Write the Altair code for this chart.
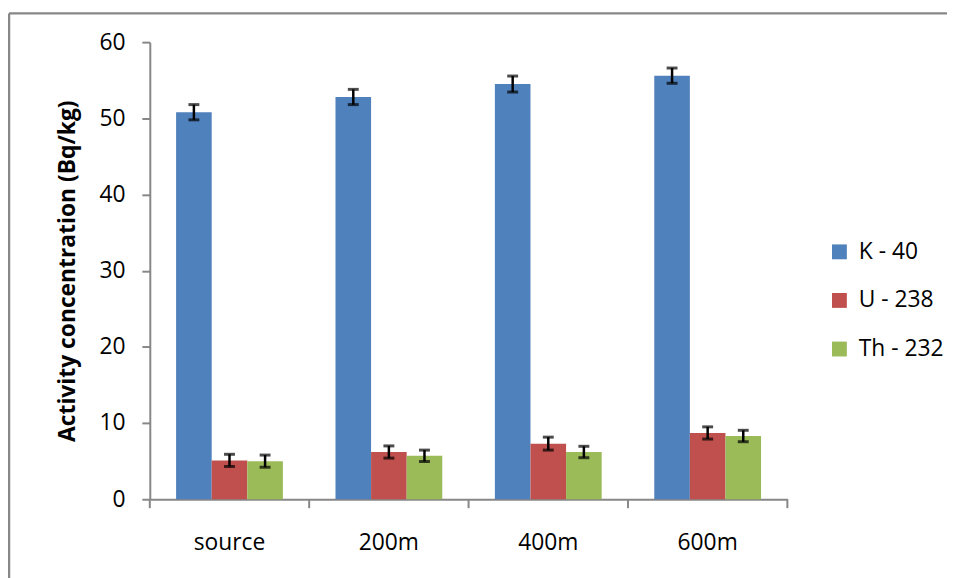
import altair as alt
import pandas as pd

sites = ["source", "200m", "400m", "600m"]
isotopes = ["K - 40", "U - 238", "Th - 232"]
k40 = [50.8, 52.8, 54.5, 55.6]
u238 = [5.1, 6.2, 7.3, 8.7]
th232 = [5.0, 5.7, 6.2, 8.3]
k40_err = [1.0, 1.0, 1.05, 1.0]
u238_err = [0.8, 0.8, 0.85, 0.8]
th232_err = [0.8, 0.75, 0.75, 0.75]
colors = ["#4F81BD", "#C0504D", "#9BBB59"]
y_ticks = [0, 10, 20, 30, 40, 50, 60]
boundaries = [0, 1, 2, 3, 4]

rows = []
for iso, vals, errs in zip(isotopes, [k40, u238, th232], [k40_err, u238_err, th232_err]):
    for s, v, e in zip(sites, vals, errs):
        rows.append({"site": s, "isotope": iso, "value": v, "lo": v - e, "hi": v + e})
df = pd.DataFrame(rows)

FONT = "Open Sans"
GRAY = "#878787"
FS = 23
W, H = 643, 461
PL, PT = 143, 32

x_enc = alt.X("site:N", sort=sites,
              scale=alt.Scale(paddingInner=0.33, paddingOuter=0.165),
              axis=alt.Axis(title=None, labelAngle=0, ticks=False, domainColor=GRAY,
                            domainWidth=2, labelFont=FONT, labelFontSize=FS,
                            labelColor="#000000", labelPadding=51,
                            labelBaseline="alphabetic"))
xo_enc = alt.XOffset("isotope:N", sort=isotopes,
                     scale=alt.Scale(paddingInner=0, paddingOuter=0))
y_scale = alt.Scale(domain=[0, 60], nice=False)

base = alt.Chart(df)

bars = base.mark_bar().encode(
    x=x_enc,
    xOffset=xo_enc,
    y=alt.Y("value:Q", scale=y_scale,
            axis=alt.Axis(values=y_ticks, grid=False, tickSize=8, tickColor=GRAY,
                          tickWidth=2, domainColor=GRAY, domainWidth=2,
                          labelFont=FONT, labelFontSize=FS, labelColor="#000000",
                          labelPadding=17, title="Activity concentration (Bq/kg)",
                          titleFont=FONT, titleFontSize=FS, titleFontWeight="bold",
                          titleColor="#000000", titlePadding=20)),
    color=alt.Color("isotope:N", sort=isotopes,
                    scale=alt.Scale(domain=isotopes, range=colors),
                    legend=alt.Legend(title=None, orient="none", legendX=684, legendY=200,
                                      symbolType="square", symbolSize=225,
                                      symbolStrokeWidth=0, labelFont=FONT,
                                      labelFontSize=FS, labelColor="#000000",
                                      labelOffset=8, rowPadding=25)),
)

err_lines = base.mark_rule(color="black", strokeWidth=2.5).encode(
    x=alt.X("site:N", sort=sites),
    xOffset=alt.XOffset("isotope:N", sort=isotopes),
    y=alt.Y("lo:Q", scale=y_scale),
    y2="hi:Q",
)

caps_lo = base.mark_tick(orient="horizontal", size=11, thickness=3, color="black").encode(
    x=alt.X("site:N", sort=sites),
    xOffset=alt.XOffset("isotope:N", sort=isotopes),
    y=alt.Y("lo:Q", scale=y_scale),
)
caps_hi = base.mark_tick(orient="horizontal", size=11, thickness=3, color="black").encode(
    x=alt.X("site:N", sort=sites),
    xOffset=alt.XOffset("isotope:N", sort=isotopes),
    y=alt.Y("hi:Q", scale=y_scale),
)

inner = alt.layer(bars, err_lines, caps_lo, caps_hi)

ticks = alt.Chart(pd.DataFrame({"b": boundaries})).mark_rule(color=GRAY, strokeWidth=2).encode(
    x=alt.X("b:Q", scale=alt.Scale(domain=[0, 4], nice=False, zero=False), axis=None),
    y=alt.value(H),
    y2=alt.value(H + 9),
)

dummy = pd.DataFrame({"d": [0]})
border_top = alt.Chart(dummy).mark_rule(color=GRAY, strokeWidth=2.5).encode(
    x=alt.value(-PL + 1), x2=alt.value(W + 170), y=alt.value(-PT + 3))
border_left = alt.Chart(dummy).mark_rule(color=GRAY, strokeWidth=2.5).encode(
    x=alt.value(-PL + 1), y=alt.value(-PT + 3), y2=alt.value(H + 90))

chart = alt.layer(inner, ticks, border_top, border_left).resolve_scale(
    x="independent"
).properties(
    width=W, height=H,
    autosize=alt.AutoSizeParams(type="none"),
    padding={"left": PL, "top": PT, "right": 947 - PL - W, "bottom": 570 - PT - H},
).configure_view(strokeWidth=0)

chart.save("out.html", embed_options={"renderer": "svg", "actions": False})
